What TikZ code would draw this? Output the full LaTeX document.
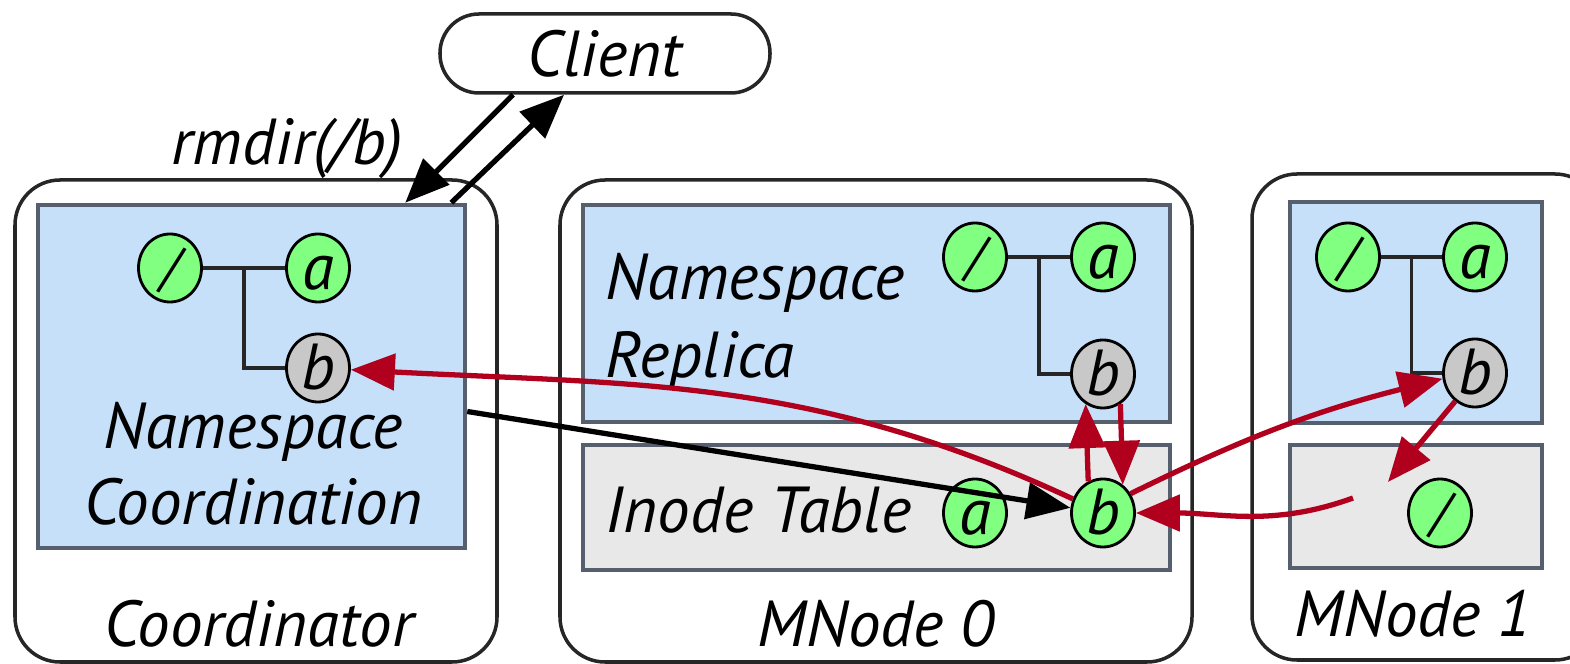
\documentclass[tikz,border=0pt]{standalone}
\usepackage{fontspec}
\setmainfont{PT Sans}
\usepackage{tikz}
\usetikzlibrary{arrows.meta,shapes,calc}
\definecolor{nsblue}{RGB}{198,224,250}
\definecolor{boxline}{RGB}{85,95,110}
\definecolor{tblgray}{RGB}{232,232,232}
\definecolor{dirgreen}{RGB}{128,255,128}
\definecolor{dirgray}{RGB}{200,200,200}
\definecolor{fsred}{RGB}{176,0,30}

\begin{document}
\begin{tikzpicture}[>={Triangle[length=4.4mm,width=3.6mm]},font=\fontsize{18.5}{22}\selectfont\itshape]
  \tikzstyle{server}=[rectangle,rounded corners=4.5mm,draw=black!85,line width=1pt]
  \tikzstyle{nsbox}=[rectangle,draw=boxline,line width=1.3pt,fill=nsblue]
  \tikzstyle{tablebox}=[rectangle,draw=boxline,line width=1.3pt,fill=tblgray]
  \tikzstyle{place}=[ellipse,draw=black,line width=0.8pt,fill=dirgreen,
                     minimum width=6.3mm,minimum height=6.8mm,inner sep=0pt,
                     text height=4.4mm,text depth=0pt]
  \tikzstyle{root place}=[place,font=\fontsize{15}{15}\selectfont\itshape,text height=3.5mm]
  \tikzstyle{gone place}=[place,fill=dirgray]
  \tikzstyle{label text}=[inner sep=0pt]
  \tikzstyle{link}=[line width=1.1pt,draw=black!85]
  \tikzstyle{msg}=[->,line width=1.5pt]
  \tikzstyle{red msg}=[msg,color=fsred]
  \useasboundingbox (0,0) rectangle (15.7,6.64);
  \clip (0,0) rectangle (15.7,6.64);

  % servers
  \node [server,minimum width=4.82cm,minimum height=4.82cm] (coord) at (2.56,2.43) {};
  \node [server,minimum width=6.32cm,minimum height=4.82cm] (mnode0) at (8.76,2.43) {};
  \node [server,minimum width=3.48cm,minimum height=4.86cm] (mnode1) at (14.26,2.47) {};
  \node [nsbox,minimum width=4.27cm,minimum height=3.43cm] (ns0) at (2.515,2.875) {};
  \node [nsbox,minimum width=5.87cm,minimum height=2.17cm] (ns1) at (8.765,3.505) {};
  \node [tablebox,minimum width=5.87cm,minimum height=1.25cm] (it1) at (8.765,1.565) {};
  \node [nsbox,minimum width=2.52cm,minimum height=2.21cm] (ns2) at (14.16,3.515) {};
  \node [tablebox,minimum width=2.52cm,minimum height=1.23cm] (it2) at (14.16,1.575) {};

  \node [rectangle,rounded corners=3.9mm,draw=black!85,line width=1pt,
         minimum width=3.3cm,minimum height=0.79cm] (client) at (6.05,6.105) {Client};
  \node [label text,anchor=base east] (rmdir) at (4.03,4.99) {rmdir(/b)};

  \node [label text,anchor=base] (nsc1) at (2.53,2.15) {Namespace};
  \node [label text,anchor=base] (nsc2) at (2.53,1.39) {Coordination};
  \node [label text,anchor=base] (coordname) at (2.59,0.17) {Coordinator};
  \node [label text,anchor=base west] (nsr1) at (6.05,3.64) {Namespace};
  \node [label text,anchor=base west] (nsr2) at (6.05,2.86) {Replica};
  \node [label text,anchor=base west] (itname) at (6.05,1.31) {Inode Table};
  \node [label text,anchor=base] (mn0name) at (8.76,0.17) {MNode 0};
  \node [label text,anchor=base] (mn1name) at (14.13,0.27) {MNode 1};

  % namespace trees
  \node [root place] (root0) at (1.70,3.96) {/};
  \node [place] (a0) [right of=root0,node distance=1.48cm] {a};
  \node [gone place] (b0) [below of=a0,node distance=1cm] {b};
  \node [root place] (root1) at (9.75,4.07) {/};
  \node [place] (a1) [right of=root1,node distance=1.28cm] {a};
  \node [gone place] (b1) [below of=a1,node distance=1.17cm] {b};
  \node [root place] (root2) at (13.48,4.07) {/};
  \node [place] (a2) [right of=root2,node distance=1.27cm] {a};
  \node [gone place] (b2) [below of=a2,node distance=1.16cm] {b};
  \foreach \n in {0,1,2} {
    \draw [link] (root\n) -- (a\n);
    \draw [link] ($(root\n.east)!0.5!(a\n.west)$) |- (b\n);
  }

  % inode tables
  \node [place] (ia1) at (9.75,1.51) {a};
  \node [place] (ib1) [right of=ia1,node distance=1.28cm] {b};
  \node [root place] (iroot2) at (14.40,1.51) {/};

  \coordinate (drop) at (13.88,1.82);
  \coordinate (lift) at (13.53,1.66);

  % messages
  \draw [msg,<-] ([xshift=-6.2mm]ns0.north east) -- ([xshift=-9.2mm]client.south);
  \draw [msg] ([xshift=-1.6mm]ns0.north east) -- ([xshift=-4.1mm]client.south);
  \draw [msg] ([yshift=-3.5mm]ns0.east) -- (ib1);
  \draw [red msg] (ib1) to[out=155,in=-3] (b0);
  \draw [red msg] (ib1.115) -- (b1.240);
  \draw [red msg] (b1.300) -- (ib1.55);
  \draw [red msg] (ib1.35) to[bend left=6] (b2.190);
  \draw [red msg] (b2.235) -- (drop);
  \draw [red msg] (lift) to[out=200,in=0] (ib1);
\end{tikzpicture}
\end{document}
